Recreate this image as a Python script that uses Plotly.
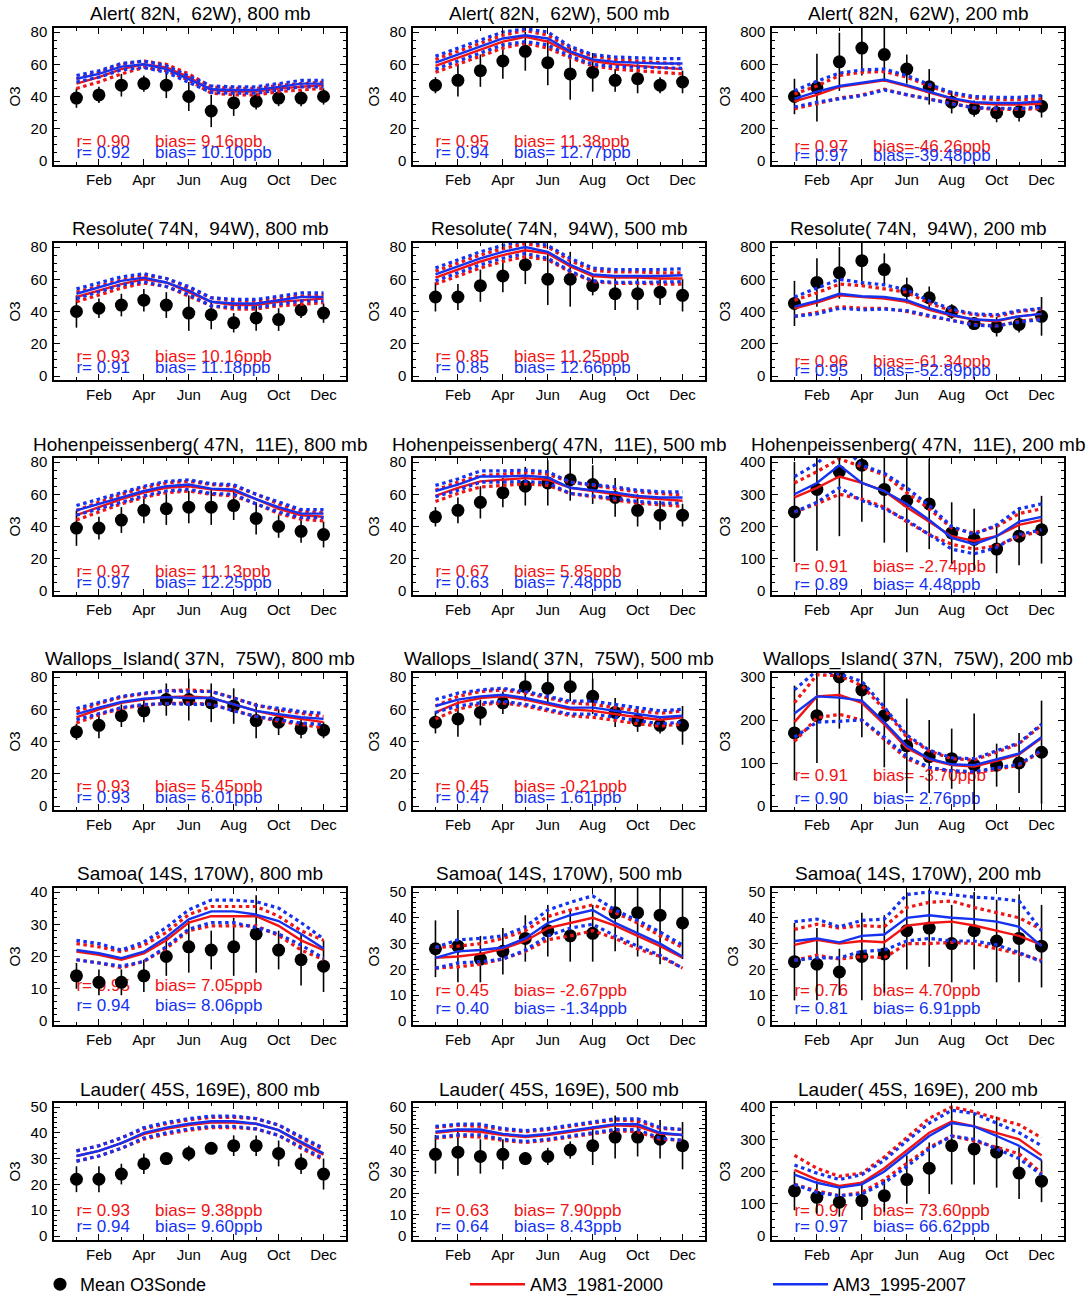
import plotly.graph_objects as go

# ---------------------------------------------------------------- data
MONTHS = [1, 2, 3, 4, 5, 6, 7, 8, 9, 10, 11, 12]
TICK_MONTHS = [2, 4, 6, 8, 10, 12]
TICK_LABELS = ["Feb", "Apr", "Jun", "Aug", "Oct", "Dec"]

STATIONS = ["Alert( 82N,  62W)", "Resolute( 74N,  94W)",
            "Hohenpeissenberg( 47N,  11E)", "Wallops_Island( 37N,  75W)",
            "Samoa( 14S, 170W)", "Lauder( 45S, 169E)"]
LEVELS = ["800 mb", "500 mb", "200 mb"]

# axis top value and major tick step per station (800, 500, 200 mb)
Y_TOP = [[80, 80, 800], [80, 80, 800], [80, 80, 400],
         [80, 80, 300], [40, 50, 50], [50, 60, 400]]
Y_STEP = [[20, 20, 200], [20, 20, 200], [20, 20, 100],
          [20, 20, 100], [10, 10, 10], [10, 10, 100]]

# mean ozonesonde climatology (ppb) and its standard deviation
OBS_MEAN = [
    [39, 41, 47, 48, 47, 40, 31, 36, 37, 39, 39, 40],
    [47, 50, 56, 62, 68, 61, 54, 55, 50, 51, 47, 49],
    [400, 455, 615, 700, 660, 570, 460, 365, 325, 300, 305, 340],
    [40, 42, 44, 47, 44, 39, 38, 33, 36, 35, 41, 39],
    [49, 49, 56, 62, 69, 60, 60, 56, 51, 51, 52, 50],
    [450, 580, 640, 715, 660, 530, 485, 400, 325, 305, 320, 370],
    [39, 39, 44, 50, 51, 52, 52, 53, 45, 40, 37, 35],
    [46, 50, 55, 61, 65, 67, 69, 66, 58, 50, 47, 47],
    [245, 315, 370, 390, 315, 280, 270, 180, 160, 130, 170, 190],
    [46, 50, 56, 59, 66, 66, 64, 62, 53, 52, 48, 47],
    [52, 54, 58, 64, 74, 73, 74, 68, 58, 53, 50, 50],
    [170, 210, 300, 270, 210, 140, 115, 110, 95, 95, 100, 125],
    [14, 12, 12, 14, 20, 23, 22, 23, 27, 22, 19, 17],
    [28, 29, 24, 27, 32, 35, 33, 34, 42, 42, 41, 38],
    [23, 22, 19, 25, 26, 35, 36, 30, 35, 31, 32, 29],
    [22, 22, 24, 28, 30, 32, 34, 35, 35, 32, 28, 24],
    [38, 39, 37, 38, 36, 37, 40, 42, 46, 46, 45, 42],
    [140, 120, 105, 110, 125, 175, 210, 280, 270, 260, 195, 170],
]
OBS_SD = [
    [6, 5, 7, 5, 8, 9, 10, 8, 5, 5, 5, 5],
    [5, 10, 10, 11, 12, 14, 16, 12, 7, 9, 5, 7],
    [110, 210, 180, 170, 170, 90, 110, 70, 50, 60, 60, 70],
    [10, 6, 7, 7, 8, 11, 9, 6, 8, 7, 5, 6],
    [9, 8, 10, 10, 12, 16, 17, 6, 10, 10, 8, 10],
    [140, 150, 160, 150, 100, 80, 70, 45, 40, 60, 50, 120],
    [11, 7, 8, 8, 10, 10, 11, 9, 10, 7, 7, 8],
    [6, 8, 10, 9, 12, 14, 13, 12, 12, 10, 9, 7],
    [155, 190, 200, 175, 165, 160, 140, 95, 95, 75, 90, 105],
    [5, 8, 7, 7, 10, 13, 12, 11, 11, 8, 6, 5],
    [7, 11, 8, 7, 9, 10, 9, 11, 9, 7, 5, 12],
    [110, 110, 120, 110, 120, 110, 85, 70, 120, 50, 70, 120],
    [4, 4, 4, 5, 6, 8, 6, 9, 12, 6, 8, 8],
    [11, 14, 9, 9, 9, 10, 10, 11, 15, 17, 19, 14],
    [15, 14, 9, 17, 15, 15, 15, 15, 15, 16, 17, 16],
    [5, 5, 4, 4, 2, 3, 2, 4, 4, 5, 4, 6],
    [9, 11, 8, 7, 3, 4, 4, 9, 10, 9, 9, 11],
    [60, 50, 45, 60, 50, 75, 80, 120, 110, 110, 80, 65],
]

# AM3_1981-2000 monthly mean and interannual standard deviation
AM3_8100_MEAN = [
    [48, 52, 57, 60, 58, 52, 44, 43, 43, 45, 46, 47],
    [59, 64, 69, 74, 77, 74, 67, 62, 60, 59, 58, 57],
    [370, 410, 460, 480, 500, 465, 425, 385, 360, 350, 350, 355],
    [49, 53, 57, 60, 58, 52, 46, 44, 44, 46, 47, 48],
    [61, 66, 71, 75, 78, 76, 68, 62, 61, 61, 60.5, 60.5],
    [420, 455, 500, 490, 480, 460, 410, 375, 350, 340, 370, 385],
    [47, 52, 57, 61, 64, 65, 63, 62, 57, 51, 47, 46],
    [59, 64, 68, 69, 70, 69, 64, 62, 60, 58, 57, 56],
    [290, 320, 355, 335, 310, 260, 215, 170, 155, 170, 205, 220],
    [55, 60, 64, 66, 67.5, 68, 67, 63, 59, 56, 54, 52],
    [58, 64, 67, 68, 66, 63, 60, 59, 57, 55, 53.5, 55],
    [195, 255, 258, 240, 190, 135, 108, 95, 92, 105, 120, 158],
    [21.5, 20.5, 19, 21, 25, 30.5, 32.5, 32.5, 32.5, 29.5, 25, 22],
    [24.5, 25, 26, 28, 31, 36, 38, 40, 37, 33, 29, 24.5],
    [29.5, 31.5, 30, 31, 30.5, 37, 38, 38.5, 37, 35, 33, 29.5],
    [31, 33, 36, 39.5, 41.5, 43, 44, 44, 43.5, 41, 36, 31.5],
    [48, 49, 48.5, 47, 46, 47, 48.5, 50, 51.5, 51, 47.5, 47],
    [205, 175, 155, 165, 210, 265, 320, 355, 340, 320, 300, 250],
]
AM3_8100_SD = [
    [3, 3, 3, 2, 2, 2, 2, 2, 2, 2, 2, 2],
    [4, 4, 4, 4, 4, 4, 3, 3, 3, 3, 3, 3],
    [45, 55, 70, 70, 55, 55, 40, 30, 30, 30, 30, 30],
    [3, 3, 2.5, 2.5, 2.5, 2.5, 2.5, 2.5, 2.5, 2.5, 2.5, 2.5],
    [4, 4, 4, 4, 4, 4, 3.5, 3.5, 3.5, 3.5, 3.5, 3.5],
    [50, 60, 70, 70, 60, 60, 40, 30, 30, 30, 30, 30],
    [3, 3, 3, 3, 3, 3, 3, 3, 3, 3, 2.5, 2.5],
    [3.5, 3.5, 3.5, 3.5, 3.5, 3.5, 3.5, 3.5, 3.5, 3.5, 3.5, 3.5],
    [45, 50, 55, 50, 50, 45, 40, 25, 25, 30, 35, 35],
    [3.5, 3.5, 3.5, 3.5, 4, 4, 4, 4, 3.5, 3.5, 3.5, 3.5],
    [4, 4, 4, 4, 4, 4, 4, 4, 4, 4, 4, 4],
    [45, 50, 45, 40, 35, 25, 20, 15, 15, 20, 25, 30],
    [2.5, 2.5, 2.5, 2.5, 2.5, 2.5, 3, 3, 3, 3, 3, 3],
    [4, 4, 4, 4, 4, 4.5, 5, 5, 5, 5, 4, 4],
    [6, 6, 6, 6, 6, 7, 8, 8, 7, 7, 7, 6],
    [2, 2, 2, 2, 2, 2, 2, 2, 2, 2, 2, 2],
    [2.5, 2.5, 2.5, 2.5, 2.5, 2.5, 2.5, 2.5, 2.5, 2.5, 2.5, 2.5],
    [45, 35, 30, 30, 35, 40, 45, 45, 45, 45, 45, 55],
]

# AM3_1995-2007 monthly mean and interannual standard deviation
AM3_9507_MEAN = [
    [51, 54, 58.5, 60, 57, 51, 44.5, 44, 44, 46, 48, 48],
    [61, 66, 71, 76, 78, 76, 68, 63, 61.5, 61, 60.5, 60.5],
    [385, 430, 465, 485, 505, 470, 430, 390, 365, 360, 360, 370],
    [51, 55, 59, 61, 58, 53, 46, 45, 45, 47, 49, 49],
    [63, 68, 73, 77, 80, 77, 69, 63, 62, 62, 62, 62.5],
    [430, 465, 510, 495, 490, 470, 420, 380, 350, 345, 370, 385],
    [50, 54, 58, 62, 65, 66, 63.5, 63, 57, 52, 48, 48],
    [62, 66, 71, 71, 71.5, 70.5, 64, 62.5, 61, 59, 58, 58],
    [300, 335, 390, 335, 310, 270, 220, 165, 145, 170, 215, 230],
    [57, 61, 64.5, 66.5, 67.5, 67, 67, 63, 59, 57, 55, 54],
    [62, 66, 68, 69, 67, 64, 61, 61, 59, 57, 55, 56],
    [215, 255, 252, 245, 195, 140, 110, 97, 95, 108, 122, 160],
    [22, 21, 19.5, 21.5, 26, 31.5, 34, 34, 33, 31, 27, 22.5],
    [24.5, 27, 27.5, 28.5, 32, 38, 41, 43, 38, 34, 30, 25],
    [31, 32, 30.5, 33, 33.5, 40, 41, 40, 39.5, 38.5, 36.5, 29],
    [31, 33, 36, 40, 42, 43.5, 44.5, 44.5, 43.5, 41, 36.5, 32],
    [48.5, 49.5, 49.5, 47.5, 46.5, 47.5, 49, 50.5, 52, 52, 48, 47],
    [190, 165, 150, 160, 200, 255, 310, 350, 340, 310, 280, 235],
]
AM3_9507_SD = [
    [2, 2, 2, 2, 2, 2, 2, 2, 2, 2, 2, 2],
    [4, 4, 4, 4, 4, 4, 3, 3, 3, 3, 3, 3],
    [50, 65, 80, 80, 65, 60, 45, 35, 35, 35, 35, 35],
    [3, 3, 2.5, 2.5, 2.5, 2.5, 2.5, 2.5, 2.5, 2.5, 2.5, 2.5],
    [4, 4, 4, 4, 4, 4, 4, 4, 4, 4, 4, 4],
    [60, 80, 90, 85, 75, 65, 45, 35, 35, 35, 35, 35],
    [3, 3, 3, 3, 3, 3, 3, 3, 3, 3, 2.5, 2.5],
    [3.5, 3.5, 3.5, 3.5, 3.5, 3.5, 3.5, 3.5, 3.5, 3.5, 3.5, 3.5],
    [55, 60, 70, 55, 55, 50, 45, 35, 30, 35, 40, 40],
    [3.5, 3.5, 3.5, 3.5, 4, 4, 4, 4, 3.5, 3.5, 3.5, 3.5],
    [4, 4, 4, 4, 4, 4, 4, 4, 4, 4, 4, 4],
    [55, 60, 55, 45, 35, 25, 20, 15, 15, 20, 25, 30],
    [3, 3, 2.5, 3, 3, 3, 3.5, 3.5, 4, 4, 3.5, 3],
    [4, 4.5, 4.5, 4.5, 4.5, 5, 5, 5.5, 5, 5, 4.5, 4.5],
    [7.5, 7.5, 6, 6, 6, 9, 9, 9, 8.5, 9, 10, 6],
    [2, 2, 2, 2, 2, 2, 2, 2, 2, 2, 2, 2],
    [2.5, 2.5, 2.5, 2.5, 2.5, 2.5, 2.5, 2.5, 2.5, 2.5, 2.5, 2.5],
    [30, 30, 25, 30, 35, 40, 40, 40, 40, 40, 40, 45],
]

# correlation and mean bias of each simulation against the sondes
R_8100 = [0.90, 0.95, 0.97, 0.93, 0.85, 0.96, 0.97, 0.67, 0.91,
          0.93, 0.45, 0.91, 0.95, 0.45, 0.76, 0.93, 0.63, 0.97]
BIAS_8100 = [9.16, 11.38, -46.26, 10.16, 11.25, -61.34, 11.13, 5.85, -2.74,
             5.45, -0.21, -3.70, 7.05, -2.67, 4.70, 9.38, 7.90, 73.60]
R_9507 = [0.92, 0.94, 0.97, 0.91, 0.85, 0.95, 0.97, 0.63, 0.89,
          0.93, 0.47, 0.90, 0.94, 0.40, 0.81, 0.94, 0.64, 0.97]
BIAS_9507 = [10.10, 12.77, -39.48, 11.18, 12.66, -52.89, 12.25, 7.48, 4.48,
             6.01, 1.61, 2.76, 8.06, -1.34, 6.91, 9.60, 8.43, 66.62]

# ---------------------------------------------------------------- layout
W, H = 1092, 1297
COL_LEFT = [54, 413, 772]     # px, left edge of each plot column
PANEL_W = 292
ROW_TOP0, ROW_STEP, PANEL_H = 28, 215, 137
# vertical position of the statistics text (px below panel top)
STAT_ROWS = [[(115, 126), (115, 126), (120, 129)],
             [(115, 126), (115, 126), (120, 129)],
             [(115, 126), (115, 126), (110, 128)],
             [(115, 126), (115, 126), (104, 127)],
             [(99, 119), (104, 122), (104, 122)],
             [(109, 125), (109, 125), (109, 125)]]

RED = "#f01414"
BLUE = "#1432f0"
FONT = "Liberation Sans, Arial, Helvetica, sans-serif"
PAD = 0.031


def fmt_r(v):
    return "r= %.2f" % v


def fmt_bias(v):
    return ("bias=%.2fppb" % v) if v <= -10 else ("bias= %.2fppb" % v)


fig = go.Figure()
layout = dict(
    width=W, height=H, margin=dict(l=0, r=0, t=0, b=0, autoexpand=False),
    paper_bgcolor="white", plot_bgcolor="white",
    font=dict(family=FONT, color="black", size=15),
    annotations=[],
)

for k in range(18):
    r, c = divmod(k, 3)
    sfx = "" if k == 0 else str(k + 1)
    xa, ya = "x" + sfx, "y" + sfx
    top = ROW_TOP0 + ROW_STEP * r
    x0 = COL_LEFT[c]
    ymax = Y_TOP[r][c]
    ylo, yhi = -PAD * ymax, (1 + PAD) * ymax

    layout["xaxis" + sfx] = dict(
        domain=[x0 / W, (x0 + PANEL_W) / W], anchor=ya,
        range=[0, 13], tickmode="array", tickvals=TICK_MONTHS, ticktext=TICK_LABELS,
        ticks="inside", ticklen=6, tickwidth=1.2, tickcolor="black",
        minor=dict(tickmode="array", tickvals=MONTHS, ticks="inside", ticklen=3,
                   tickcolor="black", tickwidth=1),
        showline=True, linecolor="black", linewidth=1.5, mirror="allticks",
        showgrid=False, zeroline=False, ticklabelstandoff=0,
        tickfont=dict(size=15),
    )
    step = Y_STEP[r][c]
    layout["yaxis" + sfx] = dict(
        domain=[1 - (top + PANEL_H) / H, 1 - top / H], anchor=xa,
        range=[ylo, yhi], tick0=0, dtick=step,
        ticks="inside", ticklen=6, tickwidth=1.2, tickcolor="black",
        minor=dict(dtick=step / (5 if step == 10 else 4), ticks="inside", ticklen=3,
                   tickcolor="black", tickwidth=1),
        showline=True, linecolor="black", linewidth=1.5, mirror="allticks",
        showgrid=False, zeroline=False, ticklabelstandoff=2,
        tickfont=dict(size=15),
        title=dict(text="O3", font=dict(size=15), standoff=6),
    )
    layout["annotations"].append(dict(
        text="%s, %s" % (STATIONS[r], LEVELS[c]),
        xref="paper", yref="paper", x=(x0 + PANEL_W / 2) / W, y=1 - (top - 14) / H,
        xanchor="center", yanchor="middle", showarrow=False,
        font=dict(size=19, family=FONT, color="black"),
    ))

    # statistics text (drawn first so the symbols sit on top of it)
    pr, pb = STAT_ROWS[r][c]
    for (px, col, rv, bv) in ((pr, RED, R_8100[k], BIAS_8100[k]),
                              (pb, BLUE, R_9507[k], BIAS_9507[k])):
        yv = ylo + (PANEL_H - px) / PANEL_H * (yhi - ylo)
        fig.add_trace(go.Scatter(
            x=[1, 4.5], y=[yv, yv], text=[fmt_r(rv), fmt_bias(bv)],
            mode="text", textposition="middle right", cliponaxis=False,
            textfont=dict(size=17, color=col, family=FONT),
            xaxis=xa, yaxis=ya, showlegend=False, hoverinfo="skip"))

    # sonde climatology
    fig.add_trace(go.Scatter(
        x=MONTHS, y=OBS_MEAN[k], mode="markers",
        marker=dict(color="black", size=13),
        error_y=dict(type="data", array=OBS_SD[k], color="black", thickness=1.6, width=0),
        xaxis=xa, yaxis=ya, name="Mean O3Sonde",
        showlegend=(k == 0), legend="legend"))

    # model simulations: mean (solid) and +/- 1 sd (dotted)
    for mean, sd, col, nm, lg in ((AM3_8100_MEAN[k], AM3_8100_SD[k], RED, "AM3_1981-2000", "legend2"),
                                  (AM3_9507_MEAN[k], AM3_9507_SD[k], BLUE, "AM3_1995-2007", "legend3")):
        up = [m + s for m, s in zip(mean, sd)]
        dn = [m - s for m, s in zip(mean, sd)]
        for band in (up, dn):
            fig.add_trace(go.Scatter(
                x=MONTHS, y=band, mode="lines",
                line=dict(color=col, width=3.2, dash="3.5px,3.5px"),
                xaxis=xa, yaxis=ya, showlegend=False, hoverinfo="skip"))
        fig.add_trace(go.Scatter(
            x=MONTHS, y=mean, mode="lines", line=dict(color=col, width=2.4),
            xaxis=xa, yaxis=ya, name=nm, showlegend=(k == 0), legend=lg))

legend_common = dict(orientation="h", yanchor="bottom", y=-6 / H,
                     xanchor="left", bgcolor="rgba(0,0,0,0)",
                     font=dict(size=18, family=FONT, color="black"))
layout["legend"] = dict(legend_common, x=40 / W, itemwidth=30)
layout["legend2"] = dict(legend_common, x=465 / W, itemwidth=55)
layout["legend3"] = dict(legend_common, x=768 / W, itemwidth=55)

fig.update_layout(**layout)
fig.write_html("out.html")
